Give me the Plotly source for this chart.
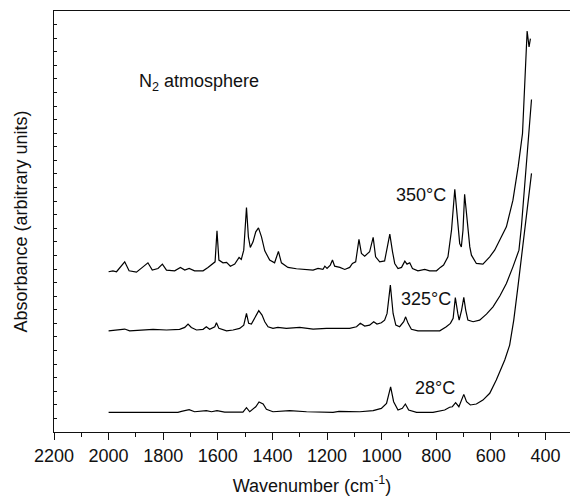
import plotly.graph_objects as go

# ---- data (wavenumber in cm^-1, offset absorbance in arbitrary units) ----
wn_350 = [2000, 1984, 1971, 1959, 1941, 1925, 1898, 1874, 1856, 1840, 1819, 1803, 1788, 1758, 1737,
          1721, 1705, 1685, 1654, 1636, 1618, 1610, 1603, 1596, 1581, 1568, 1554, 1538, 1522, 1514,
          1505, 1495, 1488, 1481, 1471, 1461, 1451, 1440, 1428, 1410, 1392, 1378, 1367, 1343, 1312,
          1288, 1251, 1233, 1215, 1208, 1200, 1188, 1180, 1172, 1153, 1135, 1117, 1107, 1095, 1083,
          1074, 1062, 1044, 1031, 1022, 1007, 989, 979, 970, 960, 952, 940, 927, 915, 907, 897, 887,
          867, 842, 824, 799, 785, 773, 757, 744, 732, 724, 714, 708, 702, 696, 687, 677, 671, 653,
          629, 604, 586, 574, 543, 519, 500, 484, 472, 467, 460, 455]
abs_350 = [11.80, 11.87, 11.80, 12.12, 12.53, 11.87, 11.77, 12.16, 12.46, 11.92, 12.04, 12.36, 11.92,
           11.87, 12.12, 11.92, 12.04, 11.87, 11.87, 12.12, 12.41, 12.53, 14.81, 12.66, 12.46, 12.49,
           12.21, 12.36, 12.85, 12.71, 13.39, 16.53, 14.37, 13.59, 14.00, 14.74, 15.03, 14.37, 13.34,
           12.66, 12.46, 13.30, 12.46, 12.12, 12.02, 11.97, 11.92, 12.04, 11.97, 12.21, 12.04, 12.29,
           12.66, 12.21, 12.12, 11.97, 12.12, 12.41, 12.53, 14.18, 13.15, 12.95, 13.27, 14.33, 12.90,
           12.53, 12.60, 13.63, 14.57, 13.27, 12.41, 12.04, 12.12, 12.58, 12.36, 12.46, 12.04, 11.87,
           11.97, 11.87, 11.87, 12.12, 12.29, 12.90, 14.86, 17.88, 16.09, 13.88, 13.63, 14.86, 17.51,
           15.60, 13.63, 13.02, 12.41, 12.36, 12.90, 13.39, 13.88, 15.11, 17.07, 19.52, 21.98, 26.88,
           29.53, 28.35, 28.97]

wn_325 = [2000, 1959, 1941, 1923, 1874, 1837, 1788, 1740, 1721, 1709, 1697, 1678, 1654, 1642, 1630,
          1611, 1605, 1596, 1568, 1544, 1520, 1505, 1495, 1487, 1477, 1465, 1450, 1438, 1428, 1416,
          1398, 1380, 1349, 1300, 1251, 1202, 1160, 1141, 1117, 1092, 1078, 1062, 1044, 1029, 1017,
          1001, 989, 980, 968, 958, 948, 934, 919, 912, 903, 891, 867, 824, 787, 763, 748, 738, 730,
          721, 716, 707, 699, 692, 684, 665, 641, 616, 592, 567, 543, 519, 497, 488, 476, 464, 451]
abs_325 = [7.45, 7.51, 7.58, 7.45, 7.51, 7.56, 7.51, 7.56, 7.70, 7.95, 7.70, 7.51, 7.56, 7.75, 7.56,
           7.75, 8.04, 7.63, 7.45, 7.51, 7.63, 7.87, 8.73, 8.00, 7.95, 8.37, 8.93, 8.61, 8.12, 7.75,
           7.63, 7.70, 7.63, 7.70, 7.58, 7.63, 7.63, 7.58, 7.63, 7.75, 8.00, 7.80, 7.87, 8.12, 7.95,
           8.04, 8.24, 8.73, 10.82, 8.73, 7.87, 7.75, 8.12, 8.48, 8.00, 7.56, 7.45, 7.45, 7.45, 7.75,
           8.00, 8.37, 9.90, 8.73, 8.24, 8.98, 9.91, 8.98, 8.24, 8.12, 8.24, 8.68, 9.22, 10.01, 10.94,
           12.16, 13.39, 15.11, 18.05, 21.49, 24.48]

wn_28 = [2000, 1746, 1733, 1705, 1685, 1642, 1623, 1603, 1575, 1508, 1495, 1483, 1461, 1449, 1434,
         1422, 1398, 1337, 1275, 1178, 1156, 1080, 1031, 1001, 982, 967, 956, 940, 924, 913, 901, 872,
         812, 769, 751, 741, 729, 717, 699, 689, 675, 653, 629, 604, 580, 561, 549, 531, 516, 500, 485,
         474, 464, 451]
abs_28 = [1.45, 1.45, 1.52, 1.64, 1.49, 1.57, 1.49, 1.57, 1.47, 1.47, 1.79, 1.49, 1.86, 2.21, 2.06,
          1.67, 1.49, 1.57, 1.49, 1.45, 1.52, 1.49, 1.57, 1.74, 2.11, 3.33, 2.23, 1.62, 1.74, 2.06, 1.62,
          1.45, 1.45, 1.62, 1.82, 1.86, 2.16, 1.86, 2.77, 2.23, 1.99, 2.06, 2.35, 2.85, 3.83, 4.69, 5.30,
          6.40, 8.24, 10.82, 13.39, 14.86, 16.58, 19.04]

series = [("350°C", wn_350, abs_350), ("325°C", wn_325, abs_325), ("28°C", wn_28, abs_28)]

# label positions (wavenumber, absorbance)
labels = [("N<sub>2</sub> atmosphere", 1670, 25.75),
          ("350°C", 857, 17.44),
          ("325°C", 836, 9.79),
          ("28°C", 805, 3.24)]

x_major = [2200, 2000, 1800, 1600, 1400, 1200, 1000, 800, 600, 400]

FONT = "Liberation Sans, Arial, Helvetica, sans-serif"

fig = go.Figure()
for name, wn, a in series:
    fig.add_trace(go.Scatter(x=wn, y=a, mode="lines", name=name,
                             line=dict(color="black", width=1.2), showlegend=False))

for text, xv, yv in labels:
    fig.add_annotation(x=xv, y=yv, text=text, showarrow=False,
                       font=dict(family=FONT, size=18, color="#111"))

fig.update_layout(
    width=570, height=497,
    margin=dict(l=54, r=0, t=11, b=65),
    paper_bgcolor="white", plot_bgcolor="white",
    font=dict(family=FONT, size=18, color="#111"),
)
fig.update_xaxes(
    range=[2200, 310], tickmode="array", tickvals=x_major,
    ticks="outside", ticklen=7, tickwidth=1.2, tickcolor="#111",
    minor=dict(ticks="outside", ticklen=4, tickwidth=1.2, tickcolor="#111", dtick=100, tick0=0),
    showline=True, linecolor="#111", linewidth=1.4, mirror=True,
    showgrid=False, zeroline=False,
    tickfont=dict(family=FONT, size=18, color="#111"),
    title=dict(text="Wavenumber (cm<sup>-1</sup>)", font=dict(family=FONT, size=18, color="#111"), standoff=14),
)
fig.update_yaxes(
    range=[0, 31], dtick=1, tick0=0,
    ticks="inside", ticklen=3, tickwidth=1.2, tickcolor="#111",
    showticklabels=False,
    showline=True, linecolor="#111", linewidth=1.4, mirror=False,
    showgrid=False, zeroline=False,
    title=dict(text="Absorbance (arbitrary units)", font=dict(family=FONT, size=18, color="#111"), standoff=20),
)

fig.write_html("out.html")
